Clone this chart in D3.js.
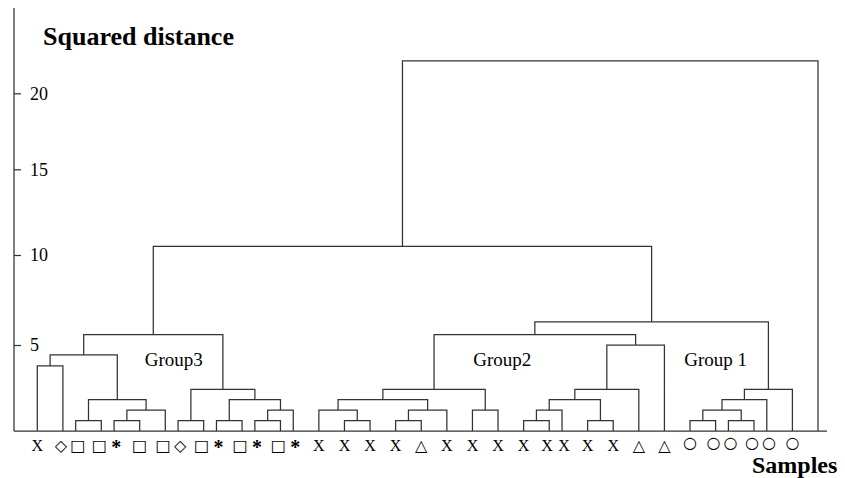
<!DOCTYPE html>
<html><head><meta charset="utf-8">
<script src="https://cdn.jsdelivr.net/npm/d3@7"></script>
<style>body{margin:0;background:#fff}svg{display:block}</style>
</head><body>
<svg id="chart" width="845" height="478"></svg>
<script>
// ---------------- data ----------------
// sample symbols, in leaf order (last leaf is unlabelled)
const leafLabels = ["X","◇","□","□","*","□","□","◇","□","*","□","*","□","*",
  "X","X","X","X","△","X","X","X","X","X","X","X","X","△","△",
  "○","○","○","○","○","○",""];
// position of each sample along the sample axis (half-step units)
const leafSlots = [0,2,3,5,6,8,10,11,13,14,16,17,19,20,
  22,24,26,28,30,32,34,36,38,40,41,43,45,47,49,
  51,53,54,56,57,59,61];
// merges (linkage): id, left child, right child, squared distance
const mergeIds = ["n1","n2","n3","n4","n5","n6","n7","n8","n9","n10","n11","n12","G3",
  "m1","m2","m3","m4","m5","m6","m7","m8","m9","m10","m11","m12","m13","G2",
  "k1","k2","k3","k4","G1","G12","A3","root"];
const mergeLeft = ["L0","L2","L4","n3","n2","n1","L7","L9","L11","n9","n8","n7","n6",
  "L15","L14","L17","m3","m2","L20","m5","L22","m8","L25","m9","m11","m12","m7",
  "L29","L31","k1","k3","k4","G2","G3","A3"];
const mergeRight = ["L1","L3","L5","L6","n4","n5","L8","L10","L12","L13","n10","n11","n12",
  "L16","m1","L18","L19","m4","L21","m6","L23","L24","L26","m10","L27","L28","m13",
  "L30","L32","k2","L33","L34","G1","G12","L35"];
const mergeHeight = [3.78,0.6,0.6,1.22,1.82,4.42,0.6,0.6,0.6,1.22,1.82,2.42,5.57,
  0.6,1.22,0.6,1.22,1.82,1.22,2.42,0.6,1.22,0.6,1.82,2.42,5.0,5.57,
  0.6,0.6,1.22,1.82,2.42,6.29,10.51,22.14];
const yTicks = [5,10,15,20];
const groupNames = ["Group3","Group2","Group 1"];
const groupAnchorSlot = [8.4,34.06,50.55];
const groupAnchorHeight = [3.8,3.8,3.8];

// ---------------- layout ----------------
const svg = d3.select("#chart");
const axisX = 14;
const x = d3.scaleLinear().domain(d3.extent(leafSlots)).range([37.3, 818]);
const y = d3.scaleLinear().domain([0, ...yTicks]).range([431, 345, 255, 169.3, 93.3]);
const ink = "#333";
const serif = "'Liberation Serif','Times New Roman',serif";

// node positions
const pos = new Map();
leafSlots.forEach((s, i) => pos.set("L" + i, {x: x(s), h: 0}));
mergeIds.forEach((id, i) => {
  const a = pos.get(mergeLeft[i]), b = pos.get(mergeRight[i]);
  pos.set(id, {x: (a.x + b.x) / 2, h: mergeHeight[i]});
});

// links
svg.append("g").selectAll("path").data(mergeIds).join("path")
  .attr("fill", "none").attr("stroke", ink).attr("stroke-width", 1.25)
  .attr("d", (id, i) => {
    const a = pos.get(mergeLeft[i]), b = pos.get(mergeRight[i]), n = pos.get(id);
    return `M${a.x},${y(a.h)}V${y(n.h)}H${b.x}V${y(b.h)}`;
  });

// baseline
svg.append("line").attr("x1", axisX).attr("x2", 827)
  .attr("y1", y(0)).attr("y2", y(0)).attr("stroke", ink).attr("stroke-width", 1.25);

// y axis
const ax = svg.append("g").attr("transform", `translate(${axisX},0)`)
  .call(d3.axisRight(y).tickValues(yTicks).tickSize(7).tickPadding(9).tickFormat(d3.format("d")));
ax.select(".domain").remove();
ax.selectAll(".tick line").attr("stroke", ink).attr("stroke-width", 1.25);
ax.selectAll(".tick text").attr("font-family", serif).attr("font-size", 18).attr("fill", "#000");
svg.append("line").attr("x1", axisX).attr("x2", axisX).attr("y1", 8).attr("y2", y(0))
  .attr("stroke", ink).attr("stroke-width", 1.25);

// leaf labels: start under each leaf, then spread close neighbours apart
const minSep = 17;
const lab = leafLabels.map((t, i) => ({t, x: x(leafSlots[i])})).filter(d => d.t !== "");
for (let it = 0; it < 30; it++) {
  for (let i = 1; i < lab.length; i++) {
    const gap = lab[i].x - lab[i - 1].x;
    if (gap < minSep) {
      const push = (minSep - gap) / 2;
      lab[i - 1].x -= push; lab[i].x += push;
    }
  }
}
svg.append("g").selectAll("text").data(lab).join("text")
  .attr("x", d => d.x)
  .attr("y", d => d.t === "*" ? 454 : d.t === "○" ? 447.5 : 451)
  .attr("text-anchor", "middle")
  .attr("font-family", d => (d.t === "X" || d.t === "*") ? serif : "'DejaVu Sans',sans-serif")
  .attr("font-weight", d => d.t === "*" ? "bold" : "normal")
  .attr("font-size", d => d.t === "X" ? 16 : d.t === "*" ? 20 : 16)
  .attr("fill", "#000")
  .text(d => d.t);

// group labels
svg.append("g").selectAll("text").data(groupNames).join("text")
  .attr("x", (d, i) => x(groupAnchorSlot[i]))
  .attr("y", (d, i) => y(groupAnchorHeight[i]))
  .attr("font-family", serif).attr("font-size", 19).attr("fill", "#000")
  .text(d => d);

// axis titles
svg.append("text").attr("x", 43).attr("y", 45)
  .attr("font-family", serif).attr("font-weight", "bold").attr("font-size", 26)
  .text("Squared distance");
svg.append("text").attr("x", 752).attr("y", 473)
  .attr("font-family", serif).attr("font-weight", "bold").attr("font-size", 24)
  .text("Samples");
</script>
</body></html>
